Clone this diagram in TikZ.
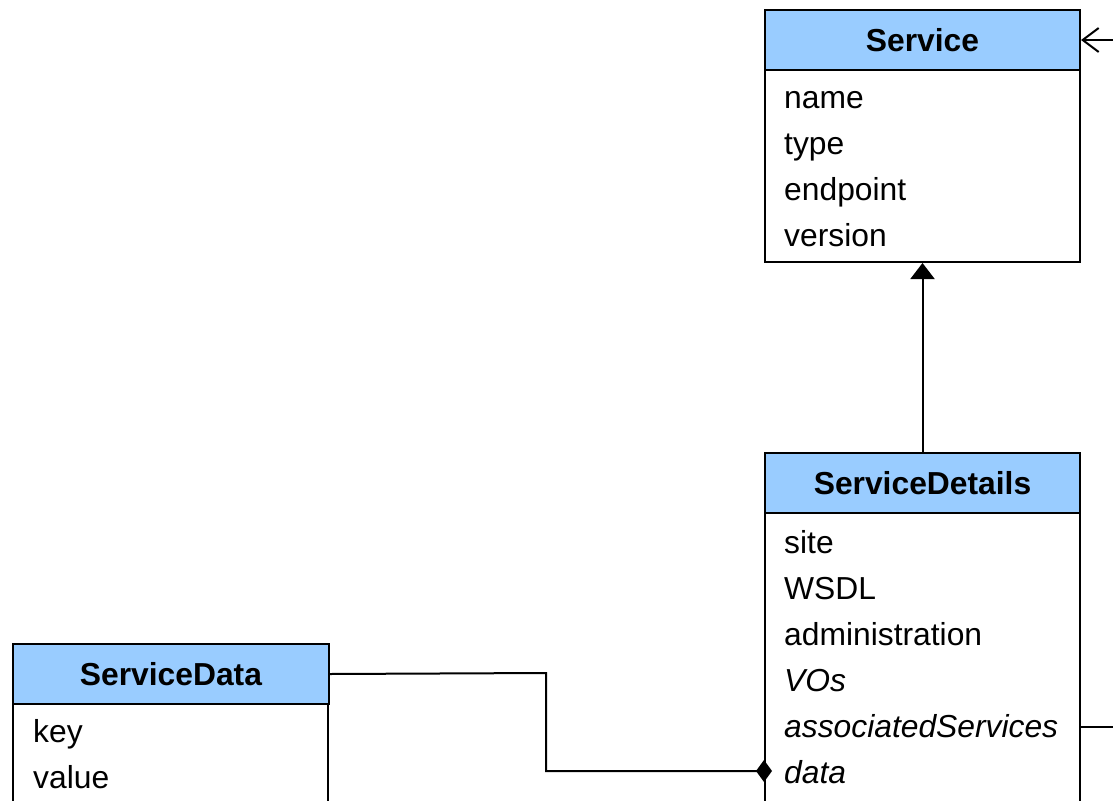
\documentclass[tikz,border=0pt]{standalone}
\usepackage{fontspec}
\setmainfont{Liberation Sans}
\usetikzlibrary{arrows.meta}
\definecolor{hdr}{HTML}{99CCFF}
\tikzset{
  hbox/.style={draw=black, line width=2pt, fill=hdr, minimum width=315pt, minimum height=60pt, anchor=north west, inner sep=0pt, font=\fontsize{31.8}{38}\selectfont\bfseries},
  bbox/.style={draw=black, line width=2pt, fill=white, minimum width=315pt, anchor=north west, inner sep=0pt},
  attr/.style={anchor=base west, inner sep=0pt, font=\fontsize{31.8}{38}\selectfont},
  iattr/.style={attr, font=\fontsize{31.8}{38}\selectfont\itshape},
  conn/.style={draw=black, line width=2pt}
}
\begin{document}
\begin{tikzpicture}[x=1pt,y=-1pt]
\useasboundingbox (0,0) rectangle (1113,800);
\clip (0,0) rectangle (1113,800);
% Service
\node[bbox, minimum height=192pt] (servicebody) at (764,69) {};
\node[hbox] (service) at (764,9) {Service};
\node[attr] (s1) at (784,108) {name};
\node[attr] (s2) at (784,154) {type};
\node[attr] (s3) at (784,200) {endpoint};
\node[attr] (s4) at (784,246) {version};
% ServiceDetails
\node[bbox, minimum height=320pt] (detailsbody) at (764,512) {};
\node[hbox] (details) at (764,452) {ServiceDetails};
\node[attr] (d1) at (784,553) {site};
\node[attr] (d2) at (784,599) {WSDL};
\node[attr] (d3) at (784,645) {administration};
\node[iattr] (d4) at (784,691) {VOs};
\node[iattr] (d5) at (784,737) {associatedServices};
\node[iattr] (d6) at (784,783) {data};
% ServiceData
\node[bbox, minimum height=140pt] (databody) at (12,703) {};
\node[hbox, minimum width=316pt] (data) at (12,643) {ServiceData};
\node[attr] (k1) at (33,742) {key};
\node[attr] (k2) at (33,788) {value};
% connectors
\coordinate (rightA) at (1113,40);
\coordinate (rightB) at (1113,727);
\draw[conn, -{Triangle[width=24pt,length=16pt]}] (details.north) -- (servicebody.south);
\draw[conn, -{Straight Barb[width=24pt,length=16pt,line width=2pt]}] (rightA) -- (service.east |- rightA);
\draw[conn] (detailsbody.east |- rightB) -- (rightB);
\draw[conn, -{Diamond[width=22pt,length=16pt]}] (data.east) -- (546,673) -- (546,771) -- ([xshift=8pt]detailsbody.west |- 0,771);
\end{tikzpicture}
\end{document}
